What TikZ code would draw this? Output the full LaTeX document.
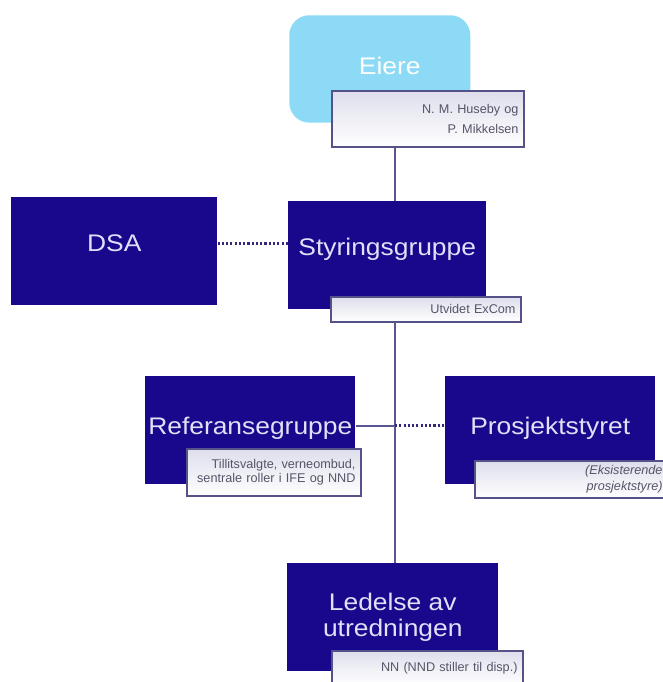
\documentclass[tikz,border=0pt]{standalone}
\usepackage{fontspec}
\setmainfont{Liberation Sans}
\newfontfamily\orgfont[FakeStretch=1.1]{Liberation Sans}
\usetikzlibrary{positioning}
\definecolor{orgnavy}{RGB}{26,8,140}
\definecolor{orgtext}{RGB}{224,224,248}
\definecolor{eiereblue}{RGB}{140,218,245}
\definecolor{noteedge}{RGB}{85,82,135}
\definecolor{notetop}{RGB}{222,222,236}
\definecolor{notetext}{RGB}{85,85,105}
\definecolor{linkgray}{RGB}{90,86,148}
\definecolor{dotnavy}{RGB}{50,40,130}

\begin{document}
\begin{tikzpicture}[x=0.75pt, y=-0.75pt,
    orgbox/.style={fill=orgnavy, text=orgtext, font=\orgfont\fontsize{18}{19.5}\selectfont, inner sep=0pt, align=center, anchor=north west, minimum height=80.5pt},
    notebox/.style={draw=noteedge, line width=1.3pt, top color=notetop, bottom color=white, text=notetext, align=right, anchor=north west, inner xsep=4pt, inner ysep=0pt},
    link/.style={draw=linkgray, line width=1.5pt},
    dotlink/.style={draw=dotnavy, line width=2.2pt, dash pattern=on 1.6pt off 1.6pt}]
  \clip (0,0) rectangle (663,682);

  \node[orgbox, fill=eiereblue, text=white, rounded corners=15pt, minimum width=135.75pt, text depth=5pt] (eiere) at (289,15) {\hspace*{15pt}Eiere};
  \node[orgbox, minimum width=154.5pt, minimum height=81pt, text depth=12pt] (dsa) at (11,197) {DSA};
  \node[orgbox, minimum width=148.5pt, minimum height=81pt, text depth=12.8pt] (styr) at (288,201) {Styringsgruppe};
  \node[orgbox, minimum width=157.5pt, text depth=6.8pt] (ref) at (145,376) {Referansegruppe};
  \node[orgbox, minimum width=157.5pt, text depth=6.8pt] (prosj) at (445,376) {Prosjektstyret};
  \node[orgbox, minimum width=158.25pt] (led) at (287,563) {Ledelse av\\utredningen};

  \coordinate (spine) at (395,0);
  \draw[link] (eiere.south -| spine) -- (styr.north -| spine);
  \draw[dotlink] ([yshift=6pt]dsa.east) -- ([yshift=6pt]dsa.east -| styr.west);
  \draw[link] (styr.south -| spine) -- (led.north -| spine);
  \draw[link] ([yshift=3pt]ref.east) -- ([yshift=3pt]ref.east -| spine) coordinate (cross);
  \draw[dotlink] (cross) -- (cross -| prosj.west);

  \node[notebox, text width=136pt, minimum height=42pt, font=\fontsize{9.5}{15}\selectfont] (eiereNote) at (331,90) {N. M. Huseby og\\P. Mikkelsen};
  \node[notebox, text width=134.5pt, minimum height=18.75pt, font=\fontsize{9.5}{11}\selectfont] (styrNote) at (330,296) {Utvidet ExCom};
  \node[notebox, text width=122.5pt, minimum height=35.25pt, font=\fontsize{9.5}{11}\selectfont] (refNote) at (186,448) {Tillitsvalgte, verneombud,\\sentrale roller i IFE og NND};
  \node[notebox, text width=136.75pt, minimum height=27.75pt, font=\itshape\fontsize{9.5}{12.5}\selectfont] (prosjNote) at (474,460) {(Eksisterende\\prosjektstyre)};
  \node[notebox, text width=135.25pt, minimum height=25.5pt, font=\fontsize{9.5}{11}\selectfont] (ledNote) at (331,650) {NN (NND stiller til disp.)};
\end{tikzpicture}
\end{document}
